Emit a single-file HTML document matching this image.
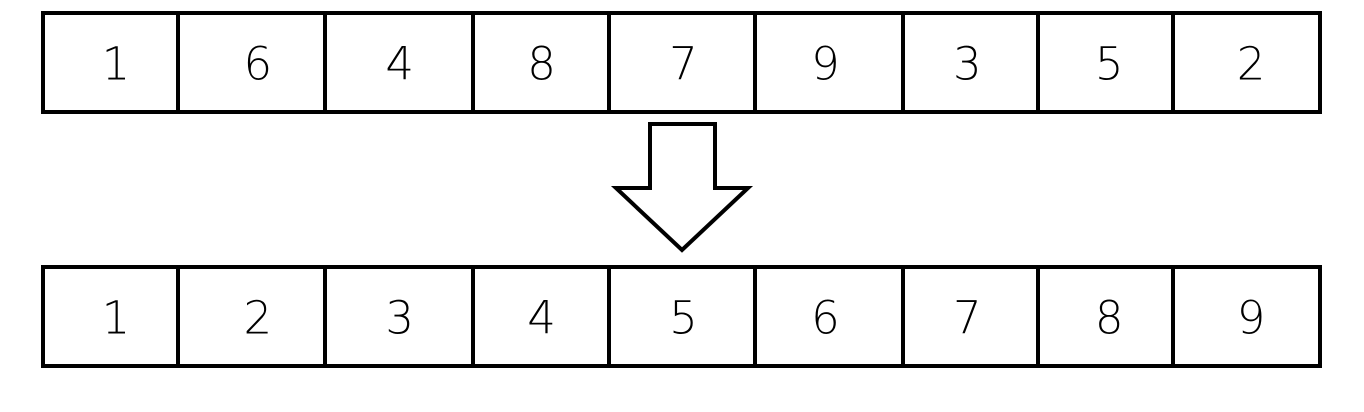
<!DOCTYPE html>
<html><head><meta charset="utf-8"><style>
html,body{margin:0;padding:0;background:#fff;width:1364px;height:412px;overflow:hidden}
text{font-family:"DejaVu Sans","Liberation Sans",sans-serif;font-weight:200;font-size:45px}
</style></head><body>
<svg id="s" width="1364" height="412" xmlns="http://www.w3.org/2000/svg">
<polygon points="650,124 715,124 715,188 748,188 682,250 616,188 650,188" fill="#fff" stroke="#000" stroke-width="4" stroke-linejoin="miter"/>
</svg>
<script>
const unsorted=[1,6,4,8,7,9,3,5,2];
const sorted=[1,2,3,4,5,6,7,8,9];
const svg=document.getElementById('s');
const NS='http://www.w3.org/2000/svg';
const edges=[43,178,325,473,609,755,903,1038,1173,1320];
const x0=43,cw=(1320-43)/9;
function row(vals,y,h,name){
  const g=document.createElementNS(NS,'g');
  
  
  vals.forEach((v,i)=>{
    const xa=edges[i],xb=edges[i+1];
    const r=document.createElementNS(NS,'rect');
    
    
    r.setAttribute('x',xa);r.setAttribute('y',y);
    r.setAttribute('width',xb-xa);r.setAttribute('height',h);
    r.setAttribute('fill','#fff');r.setAttribute('stroke','#000');r.setAttribute('stroke-width','4');
    g.appendChild(r);
    const t=document.createElementNS(NS,'text');
    
    
    t.setAttribute('x',x0+cw*(i+0.5)+2);t.setAttribute('y',y+h/2+17);
    t.setAttribute('text-anchor','middle');
    t.textContent=v;
    g.appendChild(t);
  });
  svg.appendChild(g);
}
row(unsorted,13,99,'unsorted-array');
row(sorted,267,99,'sorted-array');
</script>
</body></html>
